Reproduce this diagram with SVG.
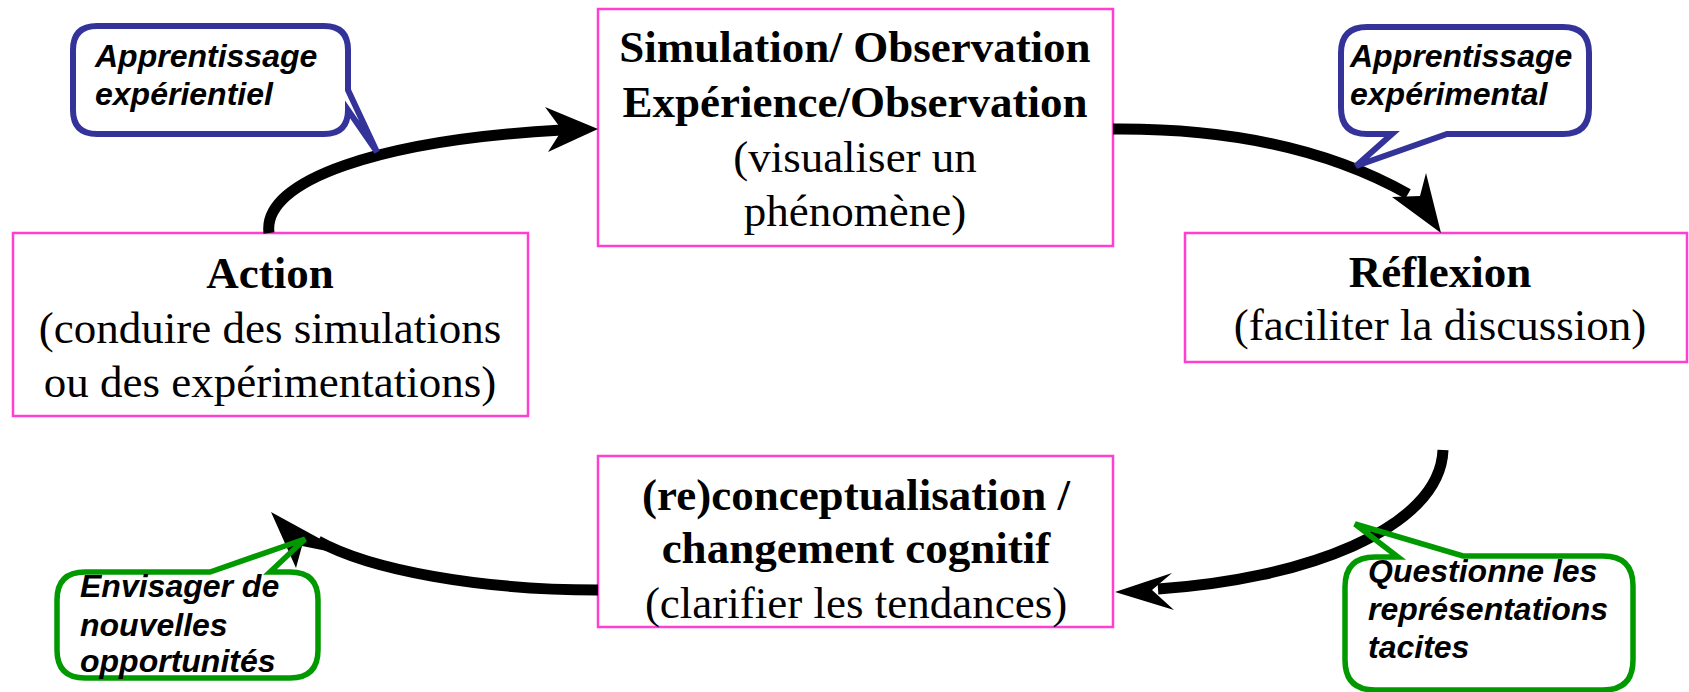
<svg xmlns="http://www.w3.org/2000/svg" width="1689" height="692" viewBox="0 0 1689 692">
<style>
.box{fill:#ffffff;stroke:#ff3fd0;stroke-width:2.5}
.t{font-family:"Liberation Serif","Times New Roman",serif;font-size:45px;fill:#000;text-anchor:middle}
.b{font-weight:bold}
.c{font-family:"Liberation Sans",Arial,sans-serif;font-size:32px;font-weight:bold;font-style:italic;fill:#000}
.blue{fill:none;stroke:#333399;stroke-width:6;stroke-linejoin:miter}
.green{fill:none;stroke:#009900;stroke-width:5.5;stroke-linejoin:miter}
.line{fill:none;stroke:#000;stroke-width:11}
.head{fill:#000;stroke:none}
</style>
<rect width="1689" height="692" fill="#ffffff"/>

<g id="node-simulation">
<rect class="box" x="598" y="9" width="515" height="237"/>
<text class="t b" x="855" y="62">Simulation/ Observation</text>
<text class="t b" x="855" y="117">Expérience/Observation</text>
<text class="t" x="855" y="172">(visualiser un</text>
<text class="t" x="855" y="226">phénomène)</text>
</g>

<g id="node-action">
<rect class="box" x="13" y="233" width="515" height="183"/>
<text class="t b" x="270" y="288">Action</text>
<text class="t" x="270" y="343">(conduire des simulations</text>
<text class="t" x="270" y="397">ou des expérimentations)</text>
</g>

<g id="node-reflexion">
<rect class="box" x="1185" y="233" width="502" height="129"/>
<text class="t b" x="1440" y="287">Réflexion</text>
<text class="t" x="1440" y="340">(faciliter la discussion)</text>
</g>

<g id="node-reconceptualisation">
<rect class="box" x="598" y="456" width="515" height="171"/>
<text class="t b" x="856" y="510">(re)conceptualisation /</text>
<text class="t b" x="856" y="563">changement cognitif</text>
<text class="t" x="856" y="618">(clarifier les tendances)</text>
</g>

<g id="connectors">
<path class="line" d="M 269 233 C 262 180, 380 140, 562 130"/>
<polygon class="head" points="598,129 545,107 562,130 548,152"/>
<path class="line" d="M 1113 129 C 1230 128, 1330 150, 1408 194"/>
<polygon class="head" points="1441,233 1426,173 1420,196 1392,197"/>
<path class="line" d="M 1443 450 C 1440 530, 1300 580, 1158 589"/>
<polygon class="head" points="1115,592 1172,573 1152,590 1174,610"/>
<path class="line" d="M 598 590 C 480 590, 370 570, 318 541"/>
<polygon class="head" points="271,512 324,541 332,552 302,546 296,568"/>
</g>

<g id="callout-experientiel">
<path class="blue" d="M 97 26 H 324 Q 348 26 348 50 V 90 L 377 152 L 348 110 Q 348 134 324 134 H 97 Q 73 134 73 110 V 50 Q 73 26 97 26 Z"/>
<text class="c" x="95" y="67">Apprentissage</text>
<text class="c" x="95" y="105">expérientiel</text>
</g>

<g id="callout-experimental">
<path class="blue" d="M 1367 27 H 1563 Q 1589 27 1589 53 V 108 Q 1589 134 1563 134 H 1447 L 1356 166 L 1392 134 H 1367 Q 1341 134 1341 108 V 53 Q 1341 27 1367 27 Z"/>
<text class="c" x="1350" y="67">Apprentissage</text>
<text class="c" x="1350" y="105">expérimental</text>
</g>

<g id="callout-envisager">
<path class="green" d="M 85 572 H 210 L 305 539 L 270 572 H 290 Q 318 572 318 600 V 650 Q 318 678 290 678 H 85 Q 57 678 57 650 V 600 Q 57 572 85 572 Z"/>
<text class="c" x="80" y="597">Envisager de</text>
<text class="c" x="80" y="636">nouvelles</text>
<text class="c" x="80" y="672">opportunités</text>
</g>

<g id="callout-questionne">
<path class="green" d="M 1375 557 H 1398 L 1355 524 L 1463 556 H 1603 Q 1633 556 1633 586 V 660 Q 1633 690 1603 690 H 1375 Q 1345 690 1345 660 V 587 Q 1345 557 1375 557 Z"/>
<text class="c" x="1368" y="582">Questionne les</text>
<text class="c" x="1368" y="620">représentations</text>
<text class="c" x="1368" y="658">tacites</text>
</g>
</svg>
